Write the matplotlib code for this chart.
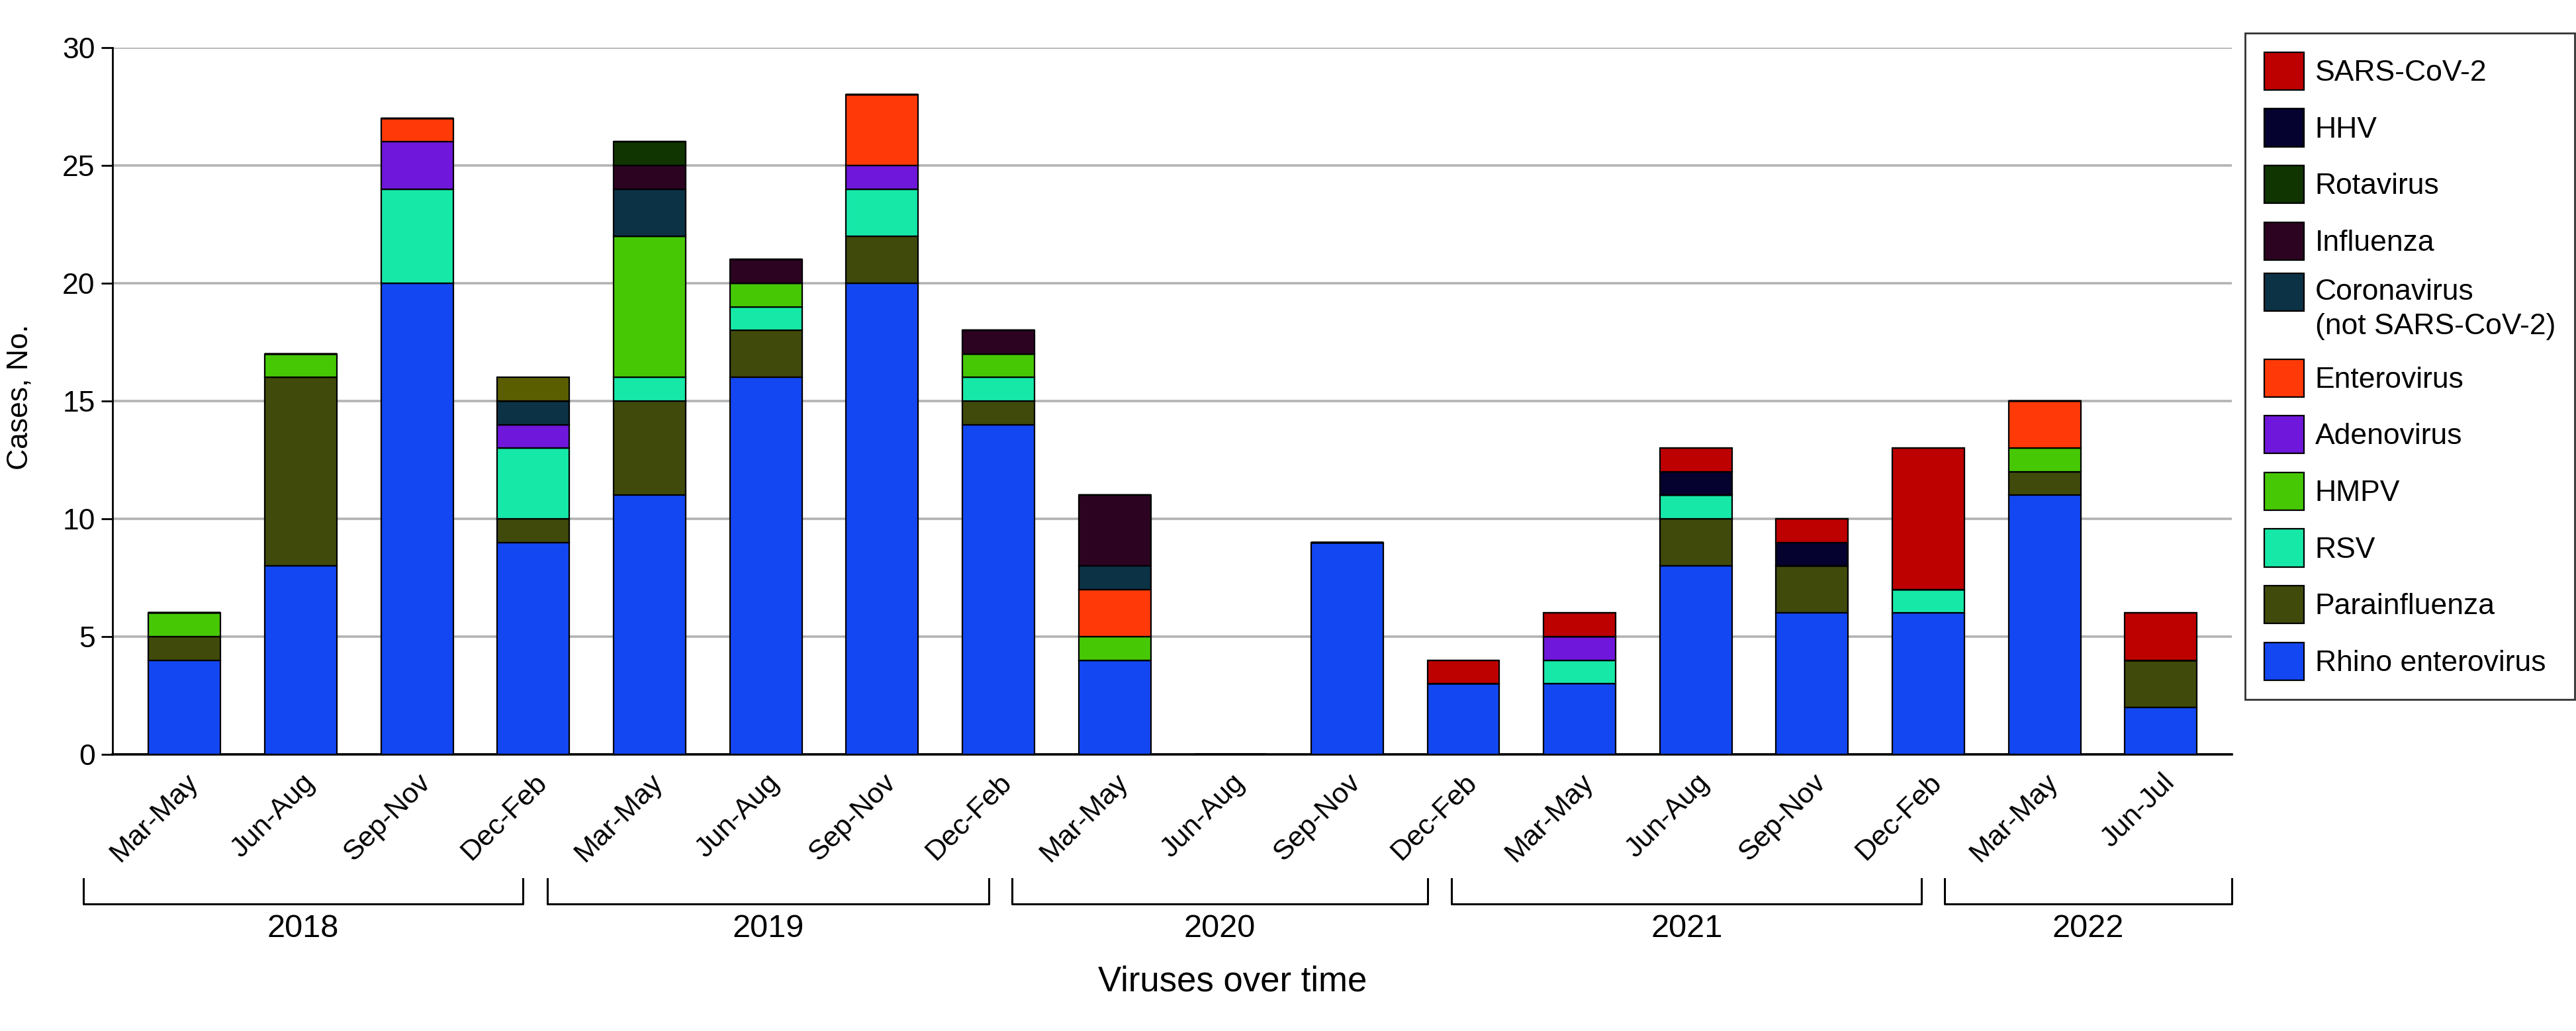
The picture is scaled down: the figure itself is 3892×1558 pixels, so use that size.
import matplotlib
matplotlib.use("Agg")
import matplotlib.pyplot as plt
import matplotlib.transforms as mtransforms
from matplotlib.lines import Line2D
from matplotlib.patches import Rectangle
from matplotlib.legend_handler import HandlerPatch, update_from_first_child
import numpy as np

plt.rcParams['font.family'] = ['Liberation Sans', 'DejaVu Sans']

# ---------------- data ----------------
periods = ["Mar-May", "Jun-Aug", "Sep-Nov", "Dec-Feb",
           "Mar-May", "Jun-Aug", "Sep-Nov", "Dec-Feb",
           "Mar-May", "Jun-Aug", "Sep-Nov", "Dec-Feb",
           "Mar-May", "Jun-Aug", "Sep-Nov", "Dec-Feb",
           "Mar-May", "Jun-Jul"]
years = ["2018", "2019", "2020", "2021", "2022"]

rhino         = [4, 8, 20, 9, 11, 16, 20, 14, 4, 0, 9, 3, 3, 8, 6, 6, 11, 2]
parainfluenza = [1, 8, 0, 1, 4, 2, 2, 1, 0, 0, 0, 0, 0, 2, 2, 0, 1, 2]
rsv           = [0, 0, 4, 3, 1, 1, 2, 1, 0, 0, 0, 0, 1, 1, 0, 1, 0, 0]
hmpv          = [1, 1, 0, 0, 6, 1, 0, 1, 1, 0, 0, 0, 0, 0, 0, 0, 1, 0]
adenovirus    = [0, 0, 2, 1, 0, 0, 1, 0, 0, 0, 0, 0, 1, 0, 0, 0, 0, 0]
enterovirus   = [0, 0, 1, 0, 0, 0, 3, 0, 2, 0, 0, 0, 0, 0, 0, 0, 2, 0]
coronavirus   = [0, 0, 0, 1, 2, 0, 0, 0, 1, 0, 0, 0, 0, 0, 0, 0, 0, 0]
influenza     = [0, 0, 0, 0, 1, 1, 0, 1, 3, 0, 0, 0, 0, 0, 0, 0, 0, 0]
rotavirus     = [0, 0, 0, 0, 1, 0, 0, 0, 0, 0, 0, 0, 0, 0, 0, 0, 0, 0]
hhv           = [0, 0, 0, 0, 0, 0, 0, 0, 0, 0, 0, 0, 0, 1, 1, 0, 0, 0]
sars_cov_2    = [0, 0, 0, 0, 0, 0, 0, 0, 0, 0, 0, 1, 1, 1, 1, 6, 0, 2]
other         = [0, 0, 0, 1, 0, 0, 0, 0, 0, 0, 0, 0, 0, 0, 0, 0, 0, 0]

series_names = ["Rhino enterovirus", "Parainfluenza", "RSV", "HMPV", "Adenovirus",
                "Enterovirus", "Coronavirus\n(not SARS-CoV-2)", "Influenza",
                "Rotavirus", "HHV", "SARS-CoV-2", "_nolegend_"]
series_values = [rhino, parainfluenza, rsv, hmpv, adenovirus, enterovirus,
                 coronavirus, influenza, rotavirus, hhv, sars_cov_2, other]
series_colors = ["#1347F2", "#404A0A", "#16E8A8", "#47C805", "#6F17DA",
                 "#FF3A08", "#0C3246", "#2D0322", "#103500", "#05022F",
                 "#BD0000", "#5A5E00"]

# layout: year bracket spans in axis (category) units
bracket_spans = [(-0.87, 2.91), (3.12, 6.92), (7.12, 10.69), (10.90, 14.94), (15.14, 17.61)]

# ---------------- figure ----------------
W, H = 3892, 1558
fig = plt.figure(figsize=(W / 100, H / 100), dpi=100)
ax_l, ax_r, ax_t, ax_b = 170, 3372, 72, 1140
ax = fig.add_axes([ax_l / W, 1 - ax_b / H, (ax_r - ax_l) / W, (ax_b - ax_t) / H])

x = np.arange(len(periods))
bottom = np.zeros(len(periods))
handles = []
for name, vals, col in zip(series_names, series_values, series_colors):
    v = np.array(vals, dtype=float)
    b = ax.bar(x, v, bottom=bottom, width=0.62, color=col, edgecolor="black",
               linewidth=1.6, label=name, zorder=3)
    if name != "_nolegend_":
        handles.append(b)
    bottom += v

ax.set_xlim(-0.62, len(periods) - 1 + 0.61)
ax.set_ylim(0, 30)
ax.set_yticks(range(0, 31, 5))
ax.yaxis.grid(True, color="#b3b3b3", linewidth=2.6, zorder=0)
ax.set_axisbelow(True)
for s in ["top", "right"]:
    ax.spines[s].set_visible(False)
ax.spines["left"].set_linewidth(2.0)
ax.spines["bottom"].set_linewidth(2.6)
ax.tick_params(axis="y", length=12, width=2.0, labelsize=32, pad=7)
ax.tick_params(axis="x", length=0, labelsize=31, pad=16)
ax.set_xticks(x)
ax.set_xticklabels(periods, rotation=45, ha="right", rotation_mode="anchor")

fig.text(30 / W, 1 - 600 / H, "Cases, No.", rotation=90, ha="center", va="center", fontsize=32)
fig.text(1862 / W, 1 - 1484 / H, "Viruses over time", ha="center", va="center", fontsize=38)

# year brackets
trans = mtransforms.blended_transform_factory(ax.transData, fig.transFigure)
y_top = 1 - 1328 / H
y_bot = 1 - 1366 / H
y_lab = 1 - 1404 / H
for yr, (left, right) in zip(years, bracket_spans):
    fig.add_artist(Line2D([left, left, right, right], [y_top, y_bot, y_bot, y_top],
                          transform=trans, color="black", linewidth=2.2, clip_on=False))
    ax.text((left + right) / 2, y_lab, yr, transform=trans, ha="center", va="center",
            fontsize=35)


# legend: the two-line entry has its swatch aligned with the first line
def top_patch(legend, orig_handle, xdescent, ydescent, width, height, fontsize):
    return Rectangle((-xdescent, -ydescent + 0.62 * fontsize), width, height)


leg_handles = handles[::-1]
leg_labels = [h.get_label() for h in leg_handles]
corona_handle = leg_handles[leg_labels.index("Coronavirus\n(not SARS-CoV-2)")]
leg = ax.legend(leg_handles, leg_labels,
                loc="upper right", bbox_to_anchor=(3890 / W, 1 - 50 / H),
                bbox_transform=fig.transFigure, fontsize=32, frameon=True,
                fancybox=False, edgecolor="black", handlelength=1.35,
                handleheight=1.6, handletextpad=0.38, labelspacing=0.64,
                borderpad=0.65, borderaxespad=0,
                handler_map={corona_handle: HandlerPatch(patch_func=top_patch,
                                                         update_func=update_from_first_child)})
leg.get_frame().set_linewidth(2.0)
for t in leg.get_texts():
    if "\n" in t.get_text():
        t.set_linespacing(1.35)

fig.savefig("out.png", dpi=100)
